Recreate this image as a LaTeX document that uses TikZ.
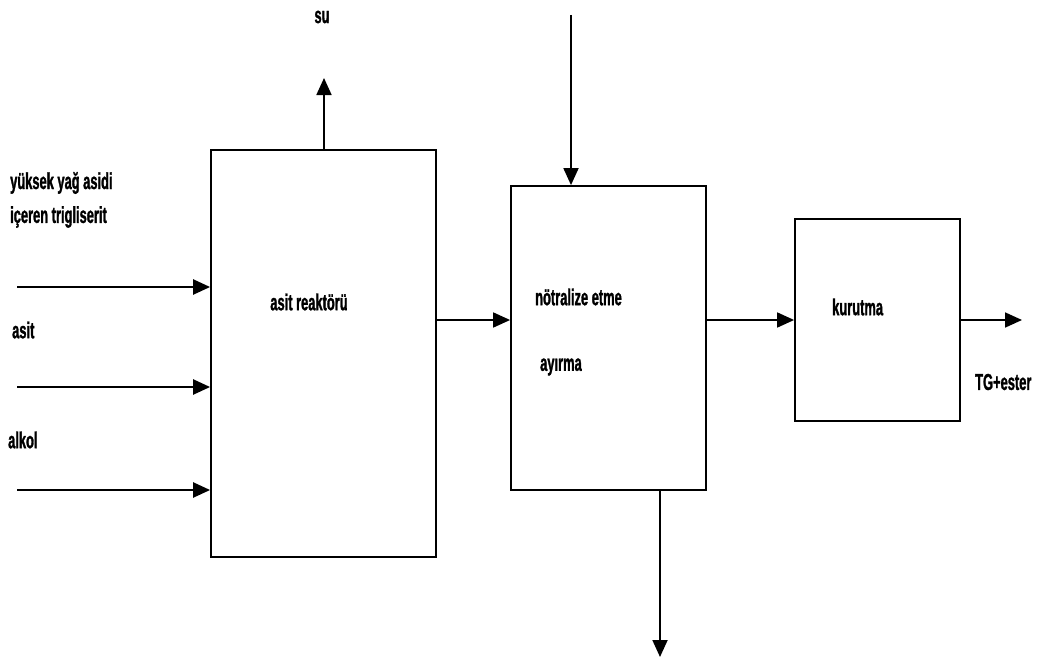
\documentclass[tikz,border=0pt]{standalone}
\usepackage{fontspec}
\usepackage{tikz}
\usetikzlibrary{arrows.meta}
\newfontfamily\labelfont{Liberation Sans}[FakeStretch=0.56, BoldFeatures={FakeBold=1.2}]

\tikzset{
  unitbox/.style={draw, line width=1.8pt, inner sep=0pt},
  flow/.style={line width=2.4pt, -{Triangle[length=17pt,width=15pt]}},
  lbl/.style={font=\labelfont\bfseries\fontsize{23}{25}\selectfont, inner sep=0pt}
}

\begin{document}
\begin{tikzpicture}[x=1pt,y=-1pt]
        \useasboundingbox (0,0) rectangle (1038,661);
        % process units
        \node[unitbox, minimum width=225pt, minimum height=407pt] (reaktor) at (323.5,353.5) {};
        \node[unitbox, minimum width=195pt, minimum height=304pt] (notr) at (608.5,338) {};
        \node[unitbox, minimum width=165pt, minimum height=202pt] (kurutma) at (877.5,320) {};
        % free ends
        \coordinate (in1) at (17,287);
        \coordinate (in2) at (17,387);
        \coordinate (in3) at (17,490);
        \coordinate (suout) at (324,78);
        \coordinate (main) at (0,320);
        \coordinate (ustgiris) at (571,15);
        \coordinate (altcikis) at (660,657);
        \coordinate (urun) at (1022,320);
        % streams
        \draw[flow] (in1) -- (reaktor.west |- in1);
        \draw[flow] (in2) -- (reaktor.west |- in2);
        \draw[flow] (in3) -- (reaktor.west |- in3);
        \draw[flow, line width=1.8pt] (reaktor.north -| suout) -- (suout);
        \draw[flow, line width=1.8pt] (reaktor.east |- main) -- (notr.west |- main);
        \draw[flow, line width=1.8pt] (notr.east |- main) -- (kurutma.west |- main);
        \draw[flow, line width=1.8pt] (kurutma.east |- main) -- (urun);
        \draw[flow, line width=1.8pt] (ustgiris) -- (notr.north -| ustgiris);
        \draw[flow, line width=1.8pt] (notr.south -| altcikis) -- (altcikis);
        % labels
        \node[lbl] (su) at (322,17) {su};
        \node[lbl, anchor=west] (yag1) at (10,183) {yüksek yağ asidi};
        \node[lbl, anchor=west] (yag2) at (10,217) {içeren trigliserit};
        \node[lbl, anchor=west] (asit) at (12,330) {asit};
        \node[lbl, anchor=west] (alkol) at (8,440) {alkol};
        \node[lbl] (reaktorlbl) at (309,302) {asit reaktörü};
        \node[lbl, anchor=west] (notrlbl) at (535,297) {nötralize etme};
        \node[lbl, anchor=west] (ayirma) at (540,367) {ayırma};
        \node[lbl, anchor=west] (kurutmalbl) at (832,307) {kurutma};
        \node[lbl, anchor=west] (tg) at (975,382) {TG+ester};
    \end{tikzpicture}
\end{document}
